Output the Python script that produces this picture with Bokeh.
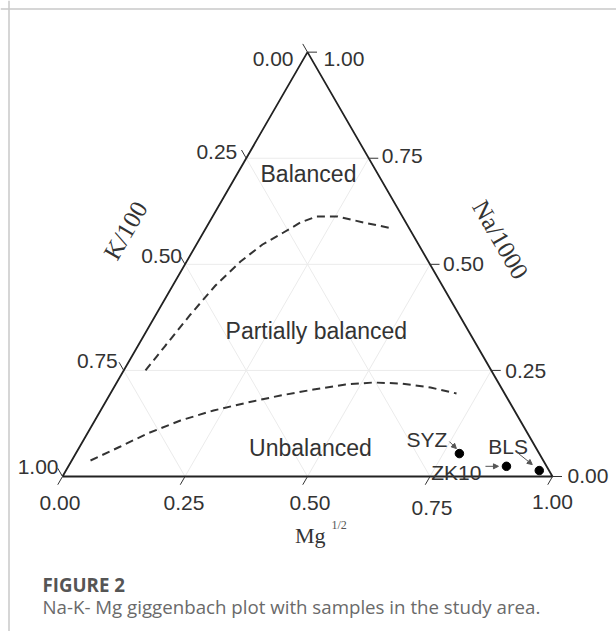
import numpy as np
from bokeh.plotting import figure
from bokeh.models import Range1d, Span, Arrow, NormalHead
from bokeh.core.properties import value
from bokeh.embed import file_html
from bokeh.resources import INLINE

# ---------------- data ----------------
tick_values = [0.0, 0.25, 0.5, 0.75, 1.0]
tick_labels = ["0.00", "0.25", "0.50", "0.75", "1.00"]
grid_values = [0.25, 0.5, 0.75]

samples = ["SYZ", "ZK10", "BLS"]
sample_mg = [0.783, 0.894, 0.966]
sample_na = [0.054, 0.024, 0.014]

# boundary curves (Mg^1/2 and Na/1000 fractions)
upper_mg = [0.0445, 0.0558, 0.0703, 0.0871, 0.1100, 0.1348, 0.1635, 0.1864,
            0.2121, 0.2549, 0.3150, 0.3813]
upper_na = [0.2498, 0.3087, 0.3818, 0.4501, 0.5067, 0.5467, 0.5750, 0.5986,
            0.6127, 0.6127, 0.5986, 0.5844]
lower_mg = [0.0383, 0.0830, 0.1228, 0.1748, 0.2304, 0.2904, 0.3495, 0.4097,
            0.4692, 0.5240, 0.5802, 0.6462, 0.7063]
lower_na = [0.0377, 0.0707, 0.1013, 0.1320, 0.1555, 0.1744, 0.1909, 0.2050,
            0.2168, 0.2215, 0.2192, 0.2097, 0.1956]

regions = ["Balanced", "Partially balanced", "Unbalanced"]
region_mg = [0.145, 0.346, 0.473]
region_na = [0.714, 0.344, 0.066]

axis_k_title = "K/100"
axis_na_title = "Na/1000"
axis_mg_title = "Mg"
axis_mg_sup = "1/2"
fig_label = "FIGURE 2"
caption = "Na-K- Mg giggenbach plot with samples in the study area."

# ---------------- geometry ----------------
S = 490.0            # px per ternary unit
H = np.sqrt(3) / 2
W, HT = 616, 631
X0 = -62 / S
Y0 = -(HT - 476) / S


def tern(mg, na):
    mg = np.asarray(mg, float)
    na = np.asarray(na, float)
    return mg + 0.5 * na, H * na


def px(xp, yp):
    # page pixel -> data (for free-standing texts)
    return (xp - 62) / S, (476 - yp) / S


p = figure(width=W, height=HT, x_range=Range1d(X0, X0 + W / S),
           y_range=Range1d(Y0, Y0 + HT / S), output_backend="svg",
           toolbar_location=None, min_border=0,
           x_axis_location=None, y_axis_location=None)
p.grid.visible = False
p.outline_line_color = None
p.background_fill_color = "white"
p.border_fill_color = "white"

# card border (top and left)
p.add_layout(Span(location=px(0, 8.5)[1], dimension="width",
                  line_color="#c8c8c8", line_width=1.5))
p.add_layout(Span(location=px(8.5, 0)[0], dimension="height",
                  line_color="#c8c8c8", line_width=1.5))

# grid lines
gx0, gy0, gx1, gy1 = [], [], [], []
for v in grid_values:
    for a, b in ((tern(0, v), tern(1 - v, v)),          # Na = v
                 (tern(0, 1 - v), tern(1 - v, 0)),      # K = v
                 (tern(v, 0), tern(v, 1 - v))):         # Mg = v
        gx0.append(a[0]); gy0.append(a[1]); gx1.append(b[0]); gy1.append(b[1])
p.segment(gx0, gy0, gx1, gy1, line_color="#ebebeb", line_width=1)

# triangle
tx, ty = tern([0, 1, 0, 0], [0, 0, 1, 0])
p.line(tx, ty, line_color="#222222", line_width=1.8)

# ticks
L = 9.5 / S
tv = np.array(tick_values)
na_x, na_y = tern(1 - tv, tv)
k_x, k_y = tern(np.zeros_like(tv), 1 - tv)
mg_x, mg_y = tern(tv, np.zeros_like(tv))
p.segment(na_x, na_y, na_x + L, na_y, line_color="#333333", line_width=1)
p.segment(k_x, k_y, k_x - 0.5 * L, k_y + H * L, line_color="#333333", line_width=1)
p.segment(mg_x, mg_y, mg_x - 0.5 * L, mg_y - H * L, line_color="#333333", line_width=1)

tick_font = value("Liberation Sans")
TFS = "21px"
# Na (right) labels
p.text(x=na_x, y=na_y, text=tick_labels, x_offset=[15, 14, 13, 13, 16],
       y_offset=[-1, 1, 0, -2, 7], text_align="left", text_baseline="alphabetic",
       text_font=tick_font, text_font_size=TFS, text_color="#333333")
# K (left) labels
p.text(x=k_x, y=k_y, text=tick_labels, x_offset=[-14, -9, -3, -6, -4],
       y_offset=[7, -6.5, -8.5, -9.5, -9.5], text_align="right",
       text_baseline="alphabetic", text_font=tick_font, text_font_size=TFS,
       text_color="#333333")
# Mg (bottom) labels
p.text(x=mg_x, y=mg_y, text=tick_labels, x_offset=[-2.5, -1, 2.5, 2, 0],
       y_offset=[26, 26, 26, 31, 25], text_align="center",
       text_baseline="alphabetic", text_font=tick_font, text_font_size=TFS,
       text_color="#333333")

# boundary curves
ux, uy = tern(upper_mg, upper_na)
lx, ly = tern(lower_mg, lower_na)
p.line(ux, uy, line_color="#333333", line_width=2, line_dash="8 5")
p.line(lx, ly, line_color="#333333", line_width=2, line_dash="8 5")

# region labels
rx, ry = tern(region_mg, region_na)
p.text(x=rx, y=ry, text=regions, text_align="center", text_baseline="middle",
       text_font=tick_font, text_font_size="23px", text_color="#333333")

# samples
sx, sy = tern(sample_mg, sample_na)
p.scatter(sx, sy, size=8.5, fill_color="black", line_color="black")
p.text(x=sx, y=sy, text=samples, x_offset=[-12, -25, -51],
       y_offset=[-14.5, 6, -24.5], text_align=["right", "right", "left"],
       text_baseline="alphabetic", text_font=tick_font, text_font_size=TFS,
       text_color="#333333")

arrow_off = [((-10, -12), (-3, -5)), ((-21, 0), (-8, 0)), ((-22, -18), (-7, -6))]
for (xs, ys), ((a0, b0), (a1, b1)) in zip(zip(sx, sy), arrow_off):
    p.add_layout(Arrow(end=NormalHead(size=5, fill_color="#555555", line_color="#555555"),
                       x_start=xs + a0 / S, y_start=ys - b0 / S,
                       x_end=xs + a1 / S, y_end=ys - b1 / S,
                       line_color="#555555", line_width=1))

# axis titles
serif = value("Liberation Serif")
kx, ky = px(125, 230)
p.text(x=[kx], y=[ky], text=[axis_k_title], angle=np.pi / 3, text_align="center",
       text_baseline="middle", text_font=serif, text_font_size="25px", text_color="#333333")
nx, ny = px(500, 239)
p.text(x=[nx], y=[ny], text=[axis_na_title], angle=-np.pi / 3, text_align="center",
       text_baseline="middle", text_font=serif, text_font_size="25px", text_color="#333333")
mx, my = px(294.5, 535)
p.text(x=[mx], y=[my], text=[axis_mg_title], text_align="left", text_baseline="alphabetic",
       text_font=serif, text_font_size="22px", text_color="#333333")
sx2, sy2 = px(331, 524)
p.text(x=[sx2], y=[sy2], text=[axis_mg_sup], text_align="left", text_baseline="alphabetic",
       text_font=serif, text_font_size="12px", text_color="#555555")

# caption
fx, fy = px(42, 584)
p.text(x=[fx], y=[fy], text=[fig_label], text_align="left", text_baseline="alphabetic",
       text_font=value("Open Sans"), text_font_size="18.7px", text_font_style="bold",
       text_color="#555555")
cx, cy = px(42, 606)
p.text(x=[cx], y=[cy], text=[caption], text_align="left", text_baseline="alphabetic",
       text_font=value("Open Sans"), text_font_size="18.7px", text_color="#6a6a6a")

open("out.html", "w").write(file_html(p, INLINE))
